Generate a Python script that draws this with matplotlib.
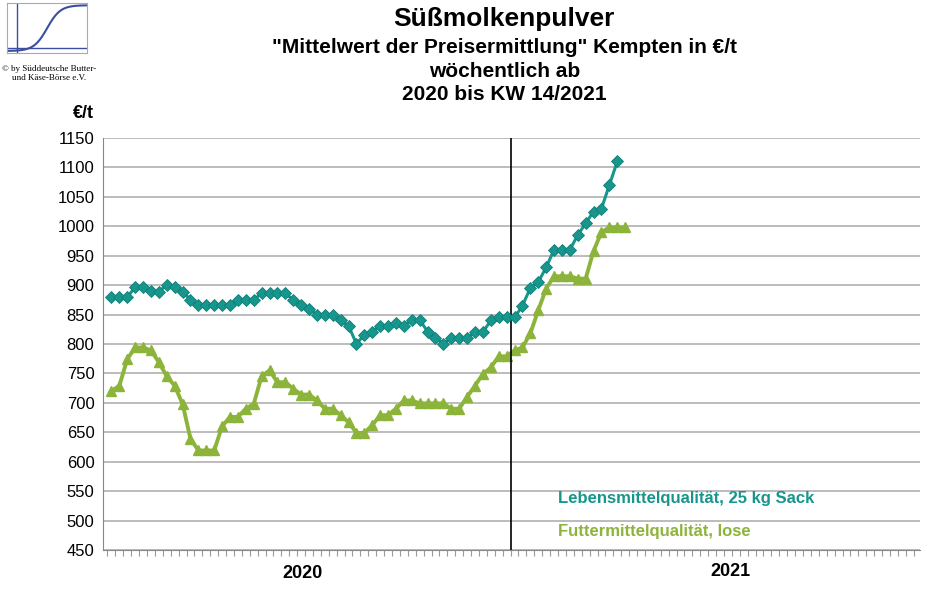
import matplotlib
matplotlib.use("Agg")
import matplotlib.pyplot as plt
import numpy as np

plt.rcParams["font.family"] = "Liberation Sans"

# Wochenwerte ab KW 1/2020 (51 Werte 2020, dann 2021)
lebensmittel = [880, 880, 880, 896, 896, 890, 889, 900, 896, 889, 875, 866, 866, 866, 866, 866,
                875, 875, 875, 886, 886, 886, 886, 875, 866, 859, 850, 850, 850, 840, 831, 800,
                816, 821, 831, 831, 835, 831, 841, 841, 821, 810, 800, 810, 810, 810, 820, 820,
                840, 845, 845,
                845, 865, 895, 905, 930, 960, 960, 960, 985, 1005, 1025, 1030, 1070, 1110]
futter = [720, 729, 774, 794, 794, 789, 769, 745, 729, 698, 639, 619, 619, 619, 660, 676,
          676, 690, 698, 745, 755, 735, 735, 724, 714, 714, 704, 690, 690, 679, 667, 649,
          649, 662, 679, 679, 690, 704, 704, 699, 699, 699, 699, 690, 690, 710, 729, 749,
          760, 779, 779,
          789, 794, 818, 857, 894, 915, 915, 915, 911, 911, 958, 990, 998, 998, 998]
n_2020 = 51
yticks = list(range(450, 1151, 50))

teal = "#16968c"
green = "#8db43a"

fig = plt.figure(figsize=(9.34, 5.92), dpi=100)
ax = fig.add_axes([0.110, 0.071, 0.875, 0.696])

ax.plot(np.arange(len(lebensmittel)), lebensmittel, color=teal, lw=2.2, marker="D", ms=6.5,
        markeredgecolor="#0f7f76", markeredgewidth=0.6, zorder=3)
ax.plot(np.arange(len(futter)), futter, color=green, lw=2.8, marker="^", ms=7.5,
        markeredgecolor=green, zorder=2)
ax.axvline(n_2020 - 0.4, color="black", lw=1.2)

ax.set_ylim(450, 1150)
ax.set_xlim(-1.1, 102.3)
ax.set_yticks(yticks)
ax.set_yticklabels([str(v) for v in yticks], fontsize=12)
ax.yaxis.grid(True, color="#b0b0b0", lw=1.2)
ax.set_axisbelow(True)
ax.set_xticks(np.arange(-0.5, 102, 1))
ax.set_xticklabels([])
ax.tick_params(axis="x", length=4, color="#999999", direction="out")
ax.tick_params(axis="y", length=0, pad=6)
for s in ["top", "right"]:
    ax.spines[s].set_visible(False)
ax.spines["left"].set_color("#888888")
ax.spines["bottom"].set_color("#888888")

ax.text(24.2, 410, "2020", ha="center", va="center", fontsize=13, fontweight="bold", clip_on=False)
ax.text(78.3, 413, "2021", ha="center", va="center", fontsize=13, fontweight="bold", clip_on=False)
ax.text(56.5, 538, "Lebensmittelqualität, 25 kg Sack", color=teal, fontsize=12, fontweight="bold", va="center")
ax.text(56.5, 482, "Futtermittelqualität, lose", color=green, fontsize=12, fontweight="bold", va="center")
fig.text(0.078, 0.80, "€/t", fontsize=13, fontweight="bold")

fig.text(0.54, 0.968, "Süßmolkenpulver", ha="center", va="center", fontsize=19, fontweight="bold")
fig.text(0.54, 0.935, "\"Mittelwert der Preisermittlung\" Kempten in €/t\nwöchentlich ab\n2020 bis KW 14/2021",
         ha="center", va="top", fontsize=15, fontweight="bold", linespacing=1.3)

# Logo
lg = fig.add_axes([0.008, 0.91, 0.085, 0.085])
t = np.linspace(0, 1, 50)
lg.plot(t, np.tanh((t - 0.5) * 6), color="#3a4fa0", lw=1.5)
lg.axvline(0.12, color="#3a4fa0", lw=1)
lg.axhline(-0.85, color="#3a4fa0", lw=1)
lg.set_xlim(0, 1)
lg.set_ylim(-1.1, 1.1)
lg.set_xticks([])
lg.set_yticks([])
for s in lg.spines.values():
    s.set_color("#aaaaaa")
fig.text(0.053, 0.89, "© by Süddeutsche Butter-\nund Käse-Börse e.V.", ha="center", va="top",
         fontsize=6.5, family="Liberation Serif")

fig.savefig("out.png", dpi=100)
